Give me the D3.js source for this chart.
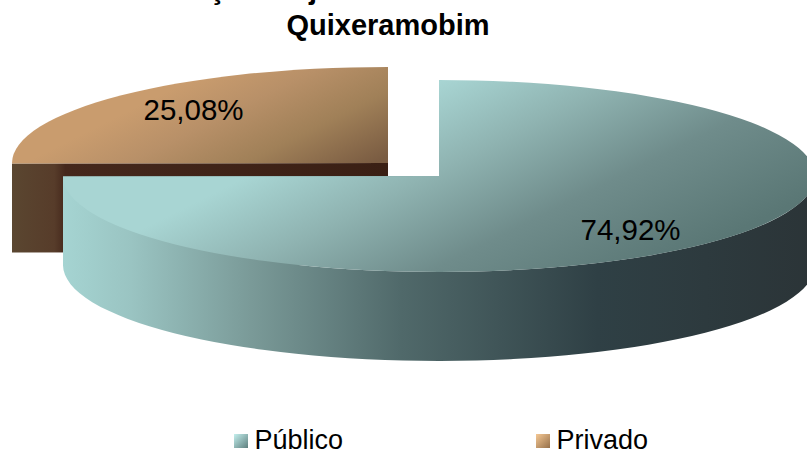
<!DOCTYPE html>
<html>
<head>
<meta charset="utf-8">
<script src="https://cdn.jsdelivr.net/npm/d3@7"></script>
<style>
  html, body { margin: 0; padding: 0; background: #fff; overflow: hidden; }
  text { font-family: "Liberation Sans", Arial, sans-serif; fill: #000; }
</style>
</head>
<body>
<svg id="chart" width="807" height="450"></svg>
<script>
const categories = ['Público', 'Privado'];
const values = [74.92, 25.08];
const valueLabels = ['74,92%', '25,08%'];
const titleLine = 'Quixeramobim';
// first title line is cut by the top edge in the reference, only these tails show
const clippedTitleGlyphs = ['ç', 'j'];

const width = 807, height = 450;
const rx = 376, ry = 96, depth = 89;

const svg = d3.select('#chart')
  .attr('viewBox', `0 0 ${width} ${height}`);

const defs = svg.append('defs');

function gradient(id, units, x1, y1, x2, y2, stops) {
  const g = defs.append('linearGradient').attr('id', id)
    .attr('gradientUnits', units)
    .attr('x1', x1).attr('y1', y1).attr('x2', x2).attr('y2', y2);
  stops.forEach(s => g.append('stop').attr('offset', s[0]).attr('stop-color', s[1]));
}

const user = 'userSpaceOnUse', box = 'objectBoundingBox';
gradient('pubTop', user, 100, 250, 220, 490, [[0, '#a8d5d3'], [0.3, '#8fb3b1'], [0.62, '#6f8c8b'], [1, '#5a7775']]);
gradient('pubSide', user, 63, 0, 815, 0, [[0, '#a5d4d2'], [0.09, '#9ac4c2'], [0.25, '#7a9a98'], [0.45, '#50696a'], [0.71, '#2f4045'], [1, '#2b3437']]);
gradient('priTop', user, 50, 150, 120, 290, [[0, '#c99c6e'], [0.3, '#b89068'], [0.63, '#a08058'], [1, '#7a5c42']]);
gradient('priSide', user, 13, 0, 388, 0, [[0, '#5a4630'], [0.11, '#573c2a'], [0.14, '#45281c'], [1, '#3a1f14']]);
gradient('legPub', box, 0, 0, 1, 1, [[0, '#c4f0ee'], [1, '#5e7f7e']]);
gradient('legPri', box, 0, 0, 1, 1, [[0, '#f5c894'], [1, '#96704a']]);

const pie = d3.pie().sort(null);
const arcs = pie(values);
const slices = [
  { cx: 439, cy: 176, top: 'url(#pubTop)', side: 'url(#pubSide)' },
  { cx: 388, cy: 163, top: 'url(#priTop)', side: 'url(#priSide)' }
];

// point on the tilted ellipse, angle clockwise from 12 o'clock
function pt(s, a, dy) {
  return [s.cx + rx * Math.sin(a), s.cy - ry * Math.cos(a) + (dy || 0)];
}

function topFace(s, d) {
  const large = d.endAngle - d.startAngle > Math.PI ? 1 : 0;
  return `M${s.cx},${s.cy}L${pt(s, d.startAngle)}A${rx},${ry} 0 ${large} 1 ${pt(s, d.endAngle)}Z`;
}

// extruded outer wall, only the part facing the viewer
function outerWall(s, a0, a1) {
  const from = Math.max(a0, Math.PI / 2), to = Math.min(a1, 3 * Math.PI / 2);
  if (from >= to) return null;
  const p0 = pt(s, from), p1 = pt(s, to), p2 = pt(s, to, depth), p3 = pt(s, from, depth);
  const large = to - from > Math.PI ? 1 : 0;
  return `M${p0}A${rx},${ry} 0 ${large} 1 ${p1}L${p2}A${rx},${ry} 0 ${large} 0 ${p3}Z`;
}

// radial cut wall between centre and rim
function cutWall(s, a) {
  const c = [s.cx, s.cy], e = pt(s, a);
  return `M${c}L${e}L${e[0]},${e[1] + depth}L${c[0]},${c[1] + depth}Z`;
}

// private slice sits behind, so it goes first
[1, 0].forEach(i => {
  const s = slices[i], d = arcs[i];
  const g = svg.append('g');
  g.append('path').attr('d', cutWall(s, d.startAngle)).attr('fill', s.side);
  g.append('path').attr('d', cutWall(s, d.endAngle)).attr('fill', s.side);
  const w = outerWall(s, d.startAngle, d.endAngle);
  if (w) g.append('path').attr('d', w).attr('fill', s.side);
  g.append('path').attr('d', topFace(s, d)).attr('fill', s.top);
});

// title
svg.append('text')
  .attr('x', 388)
  .attr('y', 35)
  .attr('text-anchor', 'middle')
  .attr('font-size', 29)
  .attr('font-weight', 'bold')
  .text(titleLine);

const clippedX = [217, 313];
svg.selectAll('text.clipped').data(clippedTitleGlyphs).join('text')
  .attr('class', 'clipped')
  .attr('x', (d, i) => clippedX[i])
  .attr('y', -1)
  .attr('text-anchor', 'middle')
  .attr('font-size', 29)
  .attr('font-weight', 'bold')
  .text(d => d);

// value labels
const labelPos = [[630.5, 240], [193.5, 120]];
svg.selectAll('text.value').data(valueLabels).join('text')
  .attr('class', 'value')
  .attr('x', (d, i) => labelPos[i][0])
  .attr('y', (d, i) => labelPos[i][1])
  .attr('text-anchor', 'middle')
  .attr('font-size', 29.5)
  .text(d => d);

// legend
const legendX = d3.scalePoint().domain(categories).range([234, 536]);
const legend = svg.selectAll('g.legend').data(categories).join('g')
  .attr('class', 'legend')
  .attr('transform', d => `translate(${legendX(d)},434)`);
legend.append('rect').attr('width', 14).attr('height', 14)
  .attr('fill', (d, i) => i === 0 ? 'url(#legPub)' : 'url(#legPri)');
legend.append('text').attr('x', 20.5).attr('y', 15).attr('font-size', 27).text(d => d);
</script>
</body>
</html>
